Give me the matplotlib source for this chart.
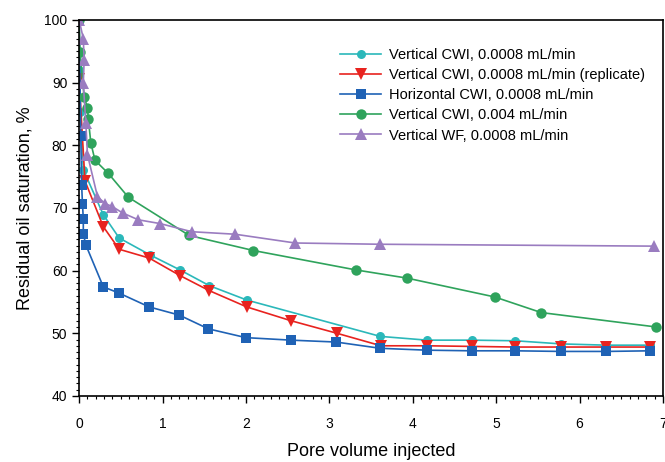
import matplotlib.pyplot as plt
from matplotlib.ticker import MultipleLocator

plt.rcParams['font.family'] = ['Liberation Sans', 'DejaVu Sans']

# Vertical CWI, 0.0008 mL/min
pv_cwi = [0.0, 0.0, 0.01, 0.05, 0.29, 0.48, 0.85, 1.21, 1.56, 2.01, 3.61, 4.17, 4.71, 5.23, 5.78, 6.32, 6.85]
so_cwi = [100, 92.0, 85.3, 76.1, 68.9, 65.2, 62.5, 60.1, 57.6, 55.3, 49.5, 48.9, 48.9, 48.8, 48.3, 48.1, 48.1]

# replicate run
pv_rep = [0.0, 0.0, 0.07, 0.29, 0.48, 0.84, 1.21, 1.56, 2.01, 2.54, 3.09, 3.62, 4.17, 4.71, 5.23, 5.78, 6.32, 6.85]
so_rep = [100, 90.5, 74.3, 67.0, 63.4, 62.0, 59.2, 56.8, 54.2, 52.0, 50.0, 48.0, 48.0, 47.9, 47.8, 47.8, 47.8, 47.8]

# Horizontal CWI, 0.0008 mL/min
pv_hor = [0.0, 0.02, 0.03, 0.04, 0.05, 0.05, 0.08, 0.29, 0.48, 0.84, 1.2, 1.55, 2.0, 2.54, 3.08, 3.61, 4.17, 4.71, 5.23, 5.78, 6.32, 6.85]
so_hor = [100, 81.4, 73.7, 70.6, 68.3, 65.9, 64.1, 57.4, 56.4, 54.2, 52.9, 50.7, 49.3, 48.9, 48.6, 47.6, 47.3, 47.2, 47.2, 47.1, 47.1, 47.2]

# Vertical CWI, 0.004 mL/min
pv_fast = [0.0, 0.01, 0.06, 0.1, 0.11, 0.14, 0.19, 0.35, 0.59, 1.32, 2.09, 3.32, 3.93, 4.98, 5.54, 6.92]
so_fast = [100, 94.9, 87.7, 86.0, 84.2, 80.4, 77.6, 75.5, 71.7, 65.6, 63.2, 60.1, 58.8, 55.8, 53.3, 51.0]

# Vertical WF, 0.0008 mL/min
pv_wf = [0.0, 0.05, 0.06, 0.05, 0.08, 0.1, 0.22, 0.31, 0.40, 0.52, 0.71, 0.97, 1.35, 1.87, 2.59, 3.61, 6.89]
so_wf = [100, 97.0, 93.6, 89.9, 83.6, 78.5, 71.8, 70.7, 70.2, 69.2, 68.1, 67.5, 66.2, 65.8, 64.4, 64.2, 63.9]

fig = plt.figure(figsize=(6.65, 4.62), dpi=100)
ax = fig.add_axes([0.119, 0.143, 0.878, 0.814])

kw = dict(lw=1.2, ms=6.5, markeredgewidth=0)
ax.plot(pv_cwi, so_cwi, 'o-', color='#2bb8ba', label='Vertical CWI, 0.0008 mL/min', **kw)
ax.plot(pv_rep, so_rep, 'v-', color='#e8231f', label='Vertical CWI, 0.0008 mL/min (replicate)', ms=8, lw=1.2, markeredgewidth=0)
ax.plot(pv_hor, so_hor, 's-', color='#1f62b5', label='Horizontal CWI, 0.0008 mL/min', **kw)
ax.plot(pv_fast, so_fast, 'o-', color='#2fa35c', label='Vertical CWI, 0.004 mL/min', ms=7.5, lw=1.2, markeredgewidth=0)
ax.plot(pv_wf, so_wf, '^-', color='#9a7cc0', label='Vertical WF, 0.0008 mL/min', ms=8, lw=1.2, markeredgewidth=0)

ax.set_xlim(0, 7)
ax.set_ylim(40, 100)
ax.xaxis.set_major_locator(MultipleLocator(1))
ax.xaxis.set_minor_locator(MultipleLocator(0.1))
ax.yaxis.set_major_locator(MultipleLocator(10))
ax.yaxis.set_minor_locator(MultipleLocator(1))
ax.tick_params(which='major', direction='out', length=5, width=1, labelsize=10, top=False, right=False)
ax.tick_params(which='minor', direction='out', length=2.5, width=0.8, top=False, right=False)
ax.tick_params(axis='x', pad=10)
for s in ax.spines.values():
    s.set_linewidth(1.2)

ax.set_xlabel('Pore volume injected', fontsize=13, labelpad=9)
ax.set_ylabel('Residual oil saturation, %', fontsize=13, labelpad=8)

ax.legend(loc='upper left', bbox_to_anchor=(0.425, 0.96), frameon=False, fontsize=10.5,
          handlelength=2.8, labelspacing=0.42, handletextpad=0.55)

fig.savefig('out.png', dpi=100)
